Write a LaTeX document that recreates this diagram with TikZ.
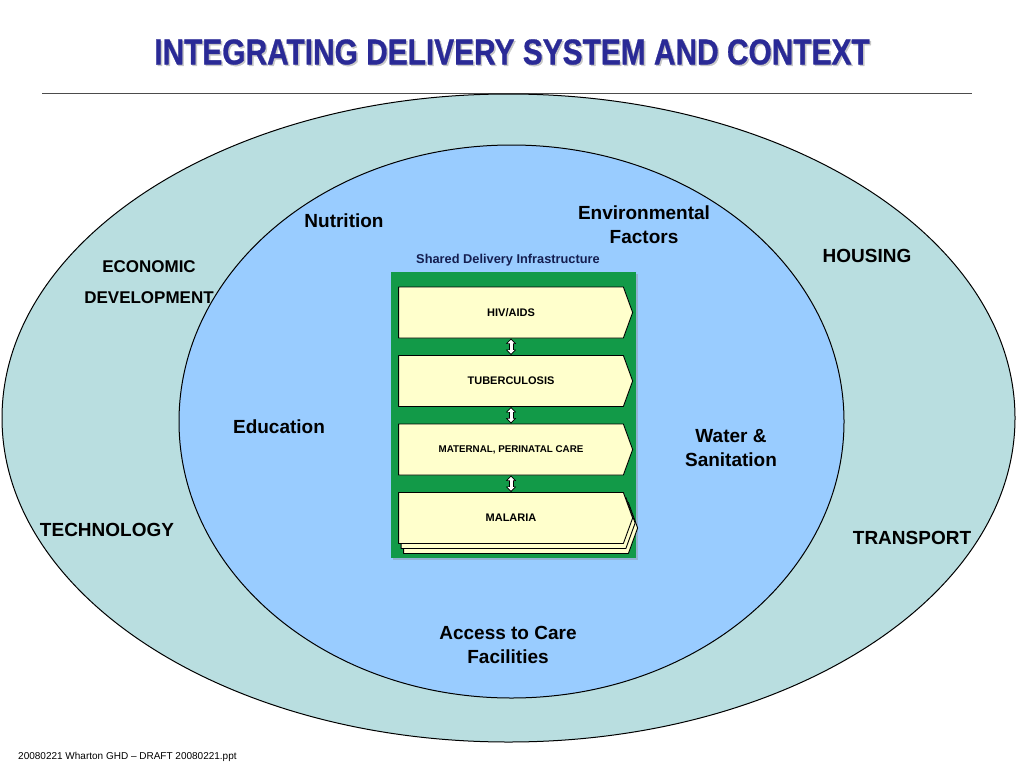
\documentclass[tikz,border=0pt]{standalone}
\usepackage{fontspec}
\setmainfont{Liberation Sans}
\newfontfamily\titlefont[FakeStretch=0.83,FakeBold=0.8]{Liberation Sans}
\usetikzlibrary{shapes.symbols,shadows,arrows.meta}
\definecolor{outerteal}{RGB}{185,222,224}
\definecolor{innerblue}{RGB}{153,204,255}
\definecolor{infragreen}{RGB}{18,154,72}
\definecolor{chevroncream}{RGB}{255,255,204}
\definecolor{titlenavy}{RGB}{42,42,150}
\definecolor{labelnavy}{RGB}{20,30,80}
\tikzset{
  ctxlabel/.style={font=\bfseries\fontsize{19}{24}\selectfont, align=center, inner sep=0pt},
  ringlabel/.style={font=\bfseries\fontsize{17}{31}\selectfont, align=center, inner sep=0pt},
  disease/.style={signal, signal to=east, signal pointer angle=140, draw=black,
    line width=0.9pt, fill=chevroncream, minimum width=234pt, minimum height=51pt,
    inner sep=0pt, font=\bfseries\fontsize{11}{13}\selectfont},
  linkarrow/.style={draw=white, line width=3pt,
    {Triangle[length=3.6pt,width=6.6pt]}-{Triangle[length=3.6pt,width=6.6pt]},
    shorten <=1.3pt, shorten >=1.3pt,
    preaction={draw=black, line width=5pt,
      {Triangle[length=5.5pt,width=10pt]}-{Triangle[length=5.5pt,width=10pt]},
      shorten <=0pt, shorten >=0pt}}
}
\begin{document}
\begin{tikzpicture}[x=1pt,y=-1pt,line join=round]
  \useasboundingbox (0,0) rectangle (1024,768);
  % title and rule
  \node[text=black!22, font=\titlefont\bfseries\fontsize{36}{40}\selectfont] (titleshadow) at (513.5,53.5) {INTEGRATING DELIVERY SYSTEM AND CONTEXT};
  \node[text=titlenavy, font=\titlefont\bfseries\fontsize{36}{40}\selectfont] (title) at (512,52) {INTEGRATING DELIVERY SYSTEM AND CONTEXT};
  \draw[black!70, line width=1pt] (42,93.3) -- (972,93.3);
  % context rings
  \draw[fill=outerteal, line width=1pt] (508.5,418) ellipse (506.5 and 324);
  \draw[fill=innerblue, line width=1pt] (511.5,421.5) ellipse (332.5 and 276.5);
  % delivery infrastructure
  \node[fill=infragreen, minimum width=245pt, minimum height=286pt, inner sep=0pt,
    drop shadow={shadow xshift=2pt, shadow yshift=-2pt, opacity=0.35}] (infra) at (513.5,415) {};
  \node[text=labelnavy, font=\bfseries\fontsize{12.8}{15}\selectfont] (infralabel) at (508,260) {Shared Delivery Infrastructure};
  \node[disease] (hiv) at (511,312.5) {HIV/AIDS};
  \node[disease] (tb) at (511,381) {TUBERCULOSIS};
  \node[disease, font=\bfseries\fontsize{9.8}{12}\selectfont] (mat) at (511,449.5) {MATERNAL, PERINATAL CARE};
  \node[disease, double copy shadow={shadow xshift=2.5pt, shadow yshift=-5pt}] (mal) at (511,518) {MALARIA};
  \draw[linkarrow] (hiv.south) -- (tb.north);
  \draw[linkarrow] (tb.south) -- (mat.north);
  \draw[linkarrow] (mat.south) -- (mal.north);
  % inner ring labels
  \node[ctxlabel] (nutrition) at (344,221) {Nutrition};
  \node[ctxlabel] (environ) at (644,225) {Environmental\\Factors};
  \node[ctxlabel] (education) at (279,427) {Education};
  \node[ctxlabel] (water) at (731,448) {Water \&\\Sanitation};
  \node[ctxlabel] (access) at (508,645) {Access to Care\\Facilities};
  % outer ring labels
  \node[ringlabel] (economic) at (149,282.5) {ECONOMIC\\DEVELOPMENT};
  \node[ctxlabel] (housing) at (867,256) {HOUSING};
  \node[ctxlabel] (technology) at (107,530) {TECHNOLOGY};
  \node[ctxlabel] (transport) at (912,538) {TRANSPORT};
  % footer
  \node[anchor=west, inner sep=0pt, font=\fontsize{10}{12}\selectfont] (footer) at (18,757) {20080221 Wharton GHD -- DRAFT 20080221.ppt};
\end{tikzpicture}
\end{document}
